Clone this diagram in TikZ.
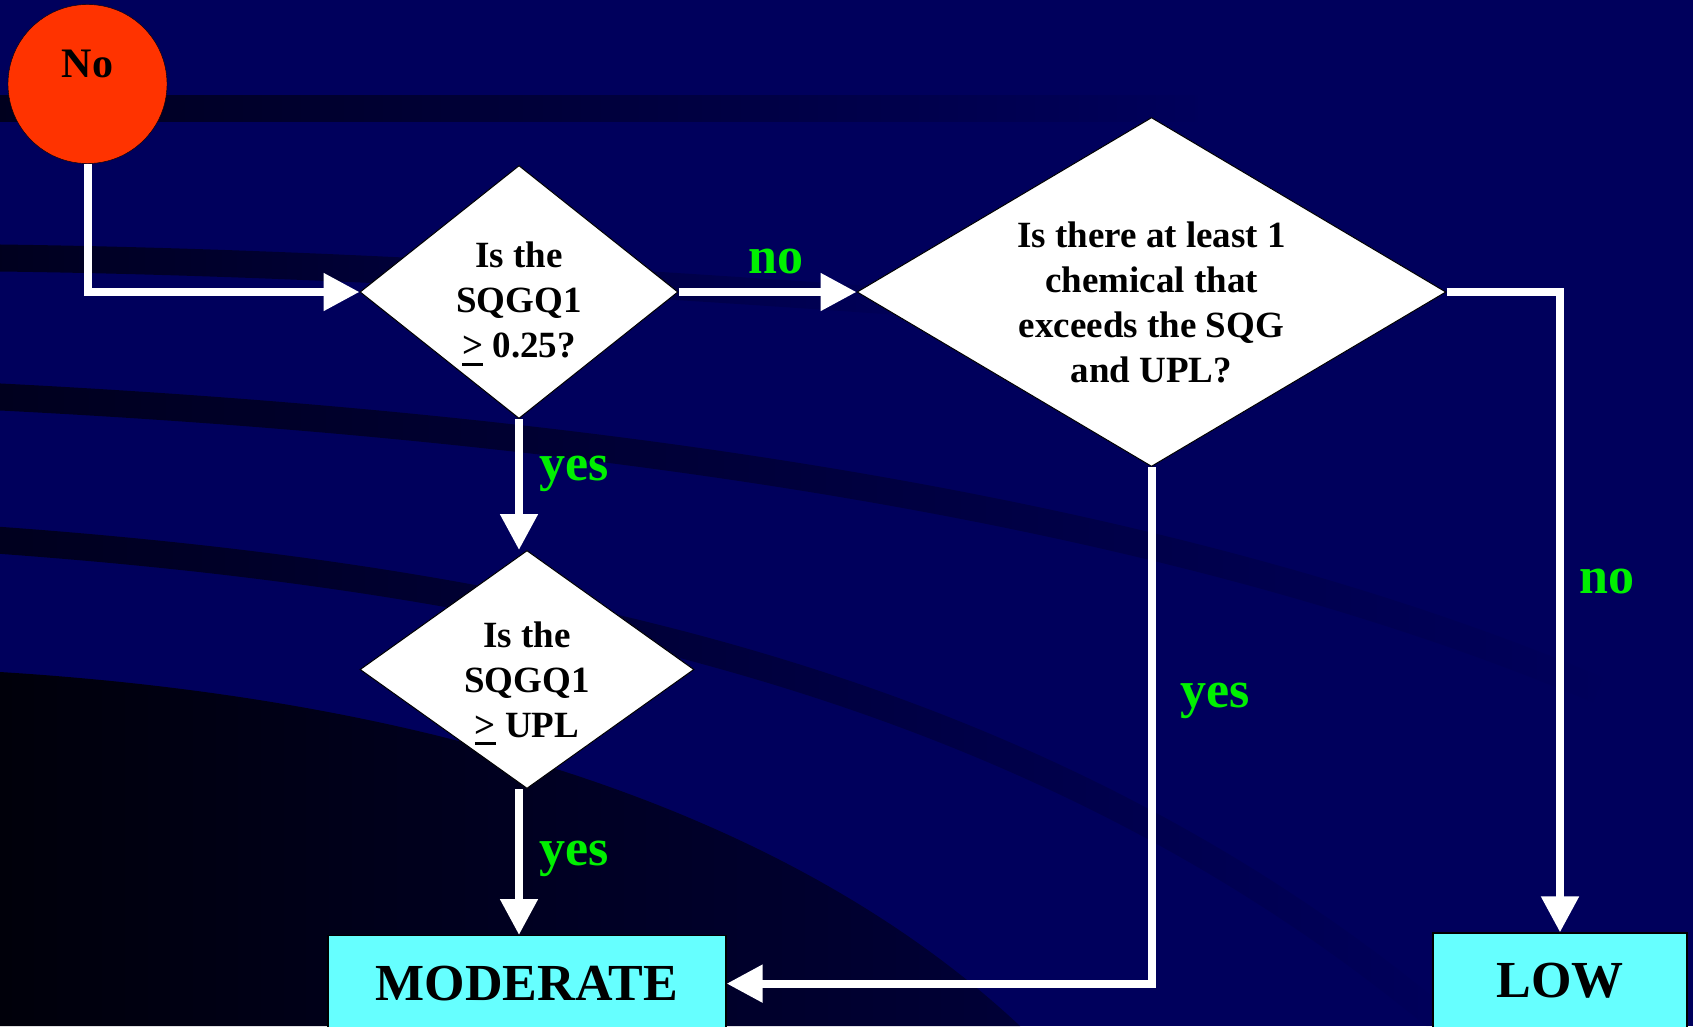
\documentclass[tikz,border=0pt]{standalone}
\usepackage{fontspec}
\setmainfont{Liberation Serif}
\usetikzlibrary{shapes.geometric,arrows.meta,positioning,fadings}
\definecolor{slidebg}{RGB}{0,0,92}
\definecolor{stripe}{RGB}{0,0,30}
\definecolor{nightlo}{RGB}{0,0,10}
\definecolor{nighthi}{RGB}{0,0,55}
\definecolor{startred}{RGB}{255,51,0}
\definecolor{endcyan}{RGB}{102,255,255}
\definecolor{replygreen}{RGB}{0,240,0}
\newcommand{\gebar}{\rlap{\rule[-0.22em]{0.57em}{0.09em}}>}
\tikzstyle{decision}=[diamond, draw=black, fill=white, line width=1pt, inner sep=0pt]
\tikzstyle{question}=[align=center, inner sep=0pt, font=\fontsize{37}{45}\selectfont\bfseries]
\tikzstyle{result}=[draw=black, fill=endcyan, line width=1.2pt, minimum height=96pt, font=\fontsize{52}{60}\selectfont\bfseries]
\tikzstyle{reply}=[text=replygreen, anchor=base west, inner sep=0pt, font=\fontsize{52}{60}\selectfont\bfseries]
\tikzstyle{flow}=[draw=white, line width=8pt, -{Triangle[length=36pt,width=36pt]}]
\tikzstyle{band}=[stripe, line width=27pt, path fading=fade right]
\tikzstyle{farband}=[stripe, line width=27pt, path fading=fade far]
\tikzfading[name=fade right, left color=transparent!0, middle color=transparent!8, right color=transparent!100]
\tikzfading[name=fade far, left color=transparent!0, middle color=transparent!45, right color=transparent!100]

\begin{document}
\begin{tikzpicture}[x=1pt,y=-1pt]
    % slide background
    \clip (0,0) rectangle (1693,1026);
    \fill[slidebg] (0,0) rectangle (1693,1026);
    \shade[left color=nightlo, right color=nighthi]
        (0,672) .. controls (450,700) and (800,820) .. (1020,1026) -- (0,1026) -- cycle;
    \draw[band] (0,108) -- (1200,108);
    \draw[band] (0,258) .. controls (300,262) and (600,280) .. (950,305);
    \draw[farband] (0,397) .. controls (550,425) and (1150,500) .. (1600,690);
    \draw[farband] (0,540) .. controls (550,580) and (1050,690) .. (1450,1026);

    % nodes
    \node[circle, draw=black, fill=startred, minimum size=159pt, inner sep=0pt] (start) at (87.5,84) {};
    \node[inner sep=0pt, font=\fontsize{42}{50}\selectfont\bfseries] (starttxt) at ([yshift=20pt]start.center) {No};

    \node[decision, minimum width=318pt, minimum height=253pt] (q1) at (519,292) {};
    \node[decision, minimum width=589pt, minimum height=349pt, right=178pt of q1] (q2) {};
    \node[decision, minimum width=334pt, minimum height=238pt, below=131pt of q1, xshift=8pt] (q3) {};
    \node[question] (q1txt) at ([yshift=-12pt]q1.center) {Is the\\SQGQ1\\\gebar{} 0.25?};
    \node[question] (q2txt) at ([yshift=-10pt]q2.center) {Is there at least 1\\chemical that\\exceeds the SQG\\and UPL?};
    \node[question] (q3txt) at ([yshift=-14pt]q3.center) {Is the\\SQGQ1\\\gebar{} UPL};

    \node[result, minimum width=398pt, below=146pt of q3] (mod) {MODERATE};
    \node[result, minimum width=254pt] (low) at (1560,981) {LOW};

    % connectors
    \draw[flow] (start.south) |- (q1.west);
    \draw[flow] (q1.east) -- (q2.west);
    \draw[flow] (q1.south) -- (q1.south |- q3.north);
    \draw[flow] (q1.south |- q3.south) -- (q1.south |- mod.north);
    \draw[flow] (q2.east) -| (low.north);
    \draw[flow] (q2.south) |- (mod.east);

    % answers
    \node[reply] (no1) at (748,273) {no};
    \node[reply] (yes1) at (539,480) {yes};
    \node[reply] (yes2) at (539,865) {yes};
    \node[reply] (yes3) at (1180,707) {yes};
    \node[reply] (no2) at (1579,593) {no};
\end{tikzpicture}
\end{document}
